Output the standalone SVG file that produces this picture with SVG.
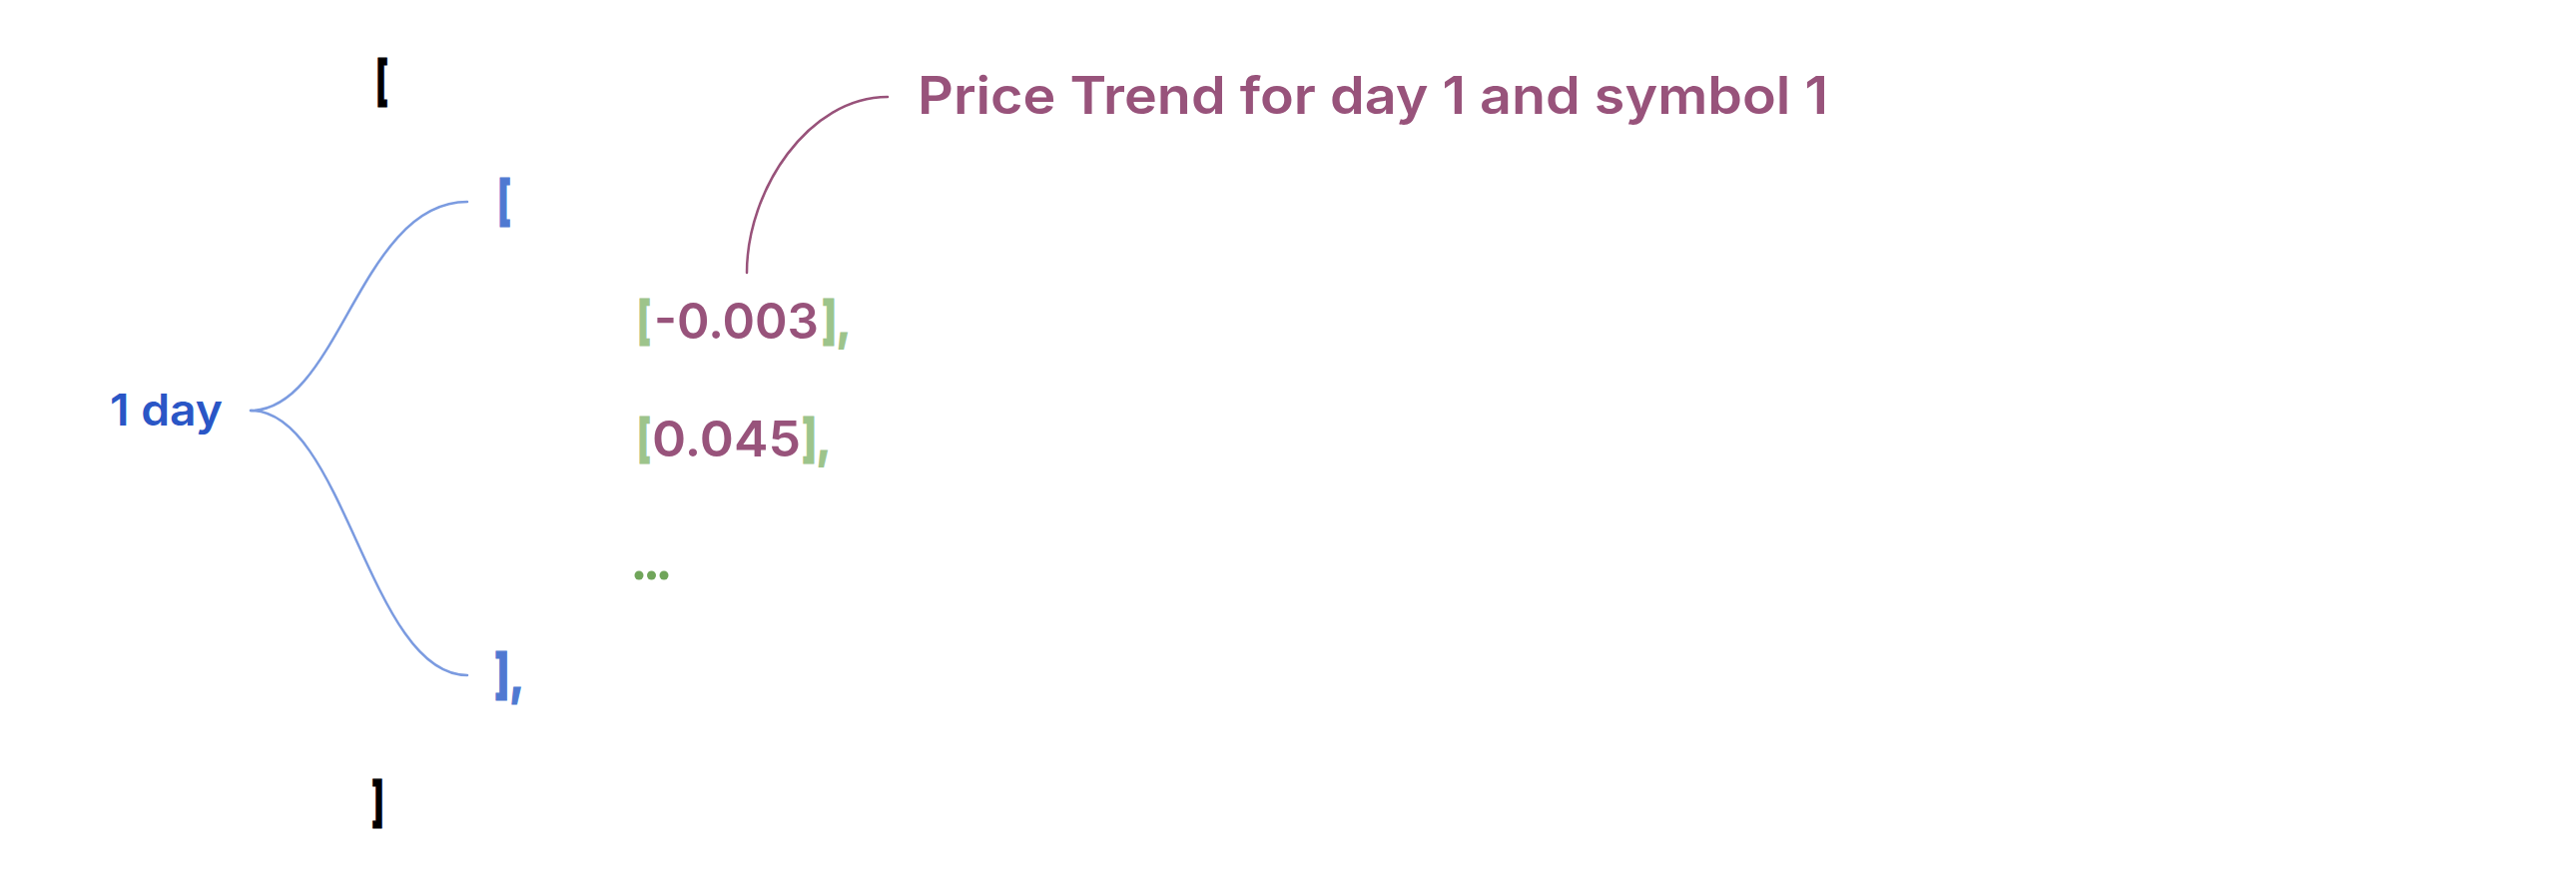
<svg xmlns="http://www.w3.org/2000/svg" width="2580" height="892" viewBox="0 0 2580 892">
<style>
text{font-family:Inter,"Open Sans","Liberation Sans",sans-serif;font-weight:600}
.br{font-weight:800;stroke-width:1.2}
.pur{fill:#98537b}
.grn{fill:#9dc48b;stroke:#9dc48b}
.blu{fill:#4f79d1;stroke:#4f79d1}
.blk{fill:#000000;stroke:#000000}
.day{fill:#2a56c6}
.conn{fill:none;stroke-width:2.5;stroke-linecap:round}
</style>
<rect width="2580" height="892" fill="#ffffff"/>
<g id="connectors">
<path class="conn" stroke="#7b9be0" d="M251 411 C340 411 360 202 468 202"/>
<path class="conn" stroke="#7b9be0" d="M251 411 C345 411 370 676 468 676"/>
<path class="conn" stroke="#98527a" d="M889 97 C810 97 748 190 748 273"/>
</g>
<g id="outer-open"><text class="blk br" x="376" y="100" font-size="54" textLength="13" lengthAdjust="spacingAndGlyphs">[</text></g>
<g id="outer-close"><text class="blk br" x="372" y="822" font-size="54" textLength="13" lengthAdjust="spacingAndGlyphs">]</text></g>
<g id="day-label"><text class="day" x="110" y="426" font-size="44" textLength="113" lengthAdjust="spacingAndGlyphs">1 day</text></g>
<g id="day-open"><text class="blu br" x="498" y="220" font-size="54" textLength="14" lengthAdjust="spacingAndGlyphs">[</text></g>
<g id="day-close"><text class="blu br" x="495" y="694" font-size="54" textLength="30" lengthAdjust="spacingAndGlyphs">],</text></g>
<g id="value1">
<text class="grn br" x="638" y="339" font-size="52" textLength="14" lengthAdjust="spacingAndGlyphs">[</text>
<text class="pur" x="655" y="339" font-size="50" textLength="165" lengthAdjust="spacingAndGlyphs">-0.003</text>
<text class="grn br" x="823" y="339" font-size="52" textLength="29" lengthAdjust="spacingAndGlyphs">],</text>
</g>
<g id="value2">
<text class="grn br" x="638" y="457" font-size="52" textLength="14" lengthAdjust="spacingAndGlyphs">[</text>
<text class="pur" x="653" y="457" font-size="50" textLength="149" lengthAdjust="spacingAndGlyphs">0.045</text>
<text class="grn br" x="803" y="457" font-size="52" textLength="29" lengthAdjust="spacingAndGlyphs">],</text>
</g>
<g id="ellipsis" fill="#70a55a">
<circle cx="640" cy="576" r="4.5"/>
<circle cx="652.5" cy="576" r="4.5"/>
<circle cx="665" cy="576" r="4.5"/>
</g>
<g id="annotation"><text class="pur" x="919" y="114" font-size="52" font-weight="500" textLength="912" lengthAdjust="spacingAndGlyphs">Price Trend for day 1 and symbol 1</text></g>
</svg>
